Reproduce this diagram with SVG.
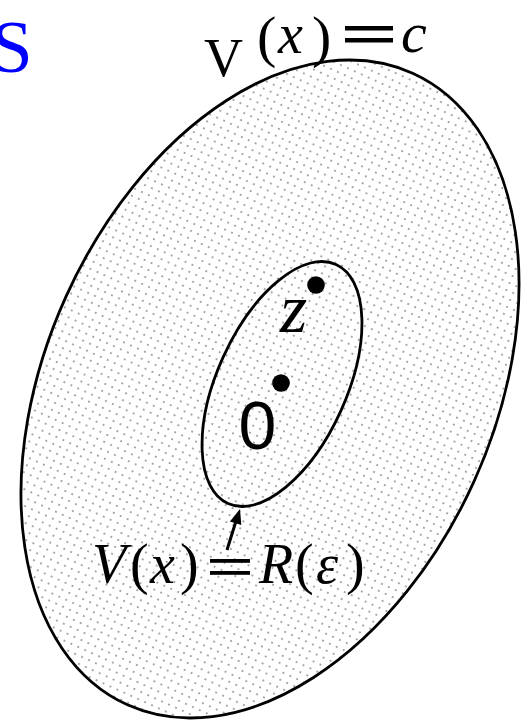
<svg xmlns="http://www.w3.org/2000/svg" width="531" height="720" viewBox="0 0 531 720">
<style>
.ell{fill:none;stroke:#000;stroke-width:2.8}
.math{font-family:"Liberation Serif","DejaVu Serif",serif;font-style:italic;fill:#000}
.rm{font-family:"Liberation Serif","DejaVu Serif",serif;fill:#000}
.conn{stroke:#000;stroke-width:3;fill:none}
</style>
<defs>
<pattern id="dots" x="0" y="0" width="7.6" height="7.6" patternUnits="userSpaceOnUse">
<circle cx="3.8" cy="3.8" r="1.05" fill="#909090"/>
</pattern>
</defs>
<rect width="531" height="720" fill="#fff"/>
<text x="-9" y="72" font-family="'Liberation Serif',serif" font-size="75" fill="#0000ff">S</text>
<g id="outer">
<ellipse cx="270" cy="389" rx="224" ry="346.5" transform="rotate(24.3 270 389)" fill="url(#dots)" stroke="none"/>
<ellipse class="ell" cx="270" cy="389" rx="224" ry="346.5" transform="rotate(24.3 270 389)"/>
</g>
<g id="outer-label">
<text class="rm" x="204" y="76" font-size="54">V</text>
<text class="rm" x="257" y="56" font-size="58">(</text>
<text class="math" x="278" y="53" font-size="56">x</text>
<text class="rm" x="312" y="56" font-size="58">)</text>
<rect x="345" y="26" width="48" height="4.5" fill="#000"/>
<rect x="345" y="38" width="48" height="4.5" fill="#000"/>
<text class="math" x="401" y="52" font-size="58">c</text>
</g>
<g id="inner">
<ellipse class="ell" cx="282" cy="384" rx="64.7" ry="131.2" transform="rotate(24.3 282 384)"/>
</g>
<g id="point-z">
<circle cx="316" cy="285" r="8.8" fill="#000"/>
<text class="math" x="280" y="332" font-size="70">z</text>
</g>
<g id="point-0">
<circle cx="281" cy="383" r="8.8" fill="#000"/>
<text x="257.5" y="449" font-family="'Liberation Sans',Arial,sans-serif" font-size="68" text-anchor="middle" fill="#000">0</text>
</g>
<g id="connectors">
<line class="conn" x1="227" y1="550" x2="236" y2="521"/>
<polygon points="240,509 229.9,521.5 241.3,525.1" fill="#000"/>
</g>
<g id="inner-label">
<text class="math" x="92" y="583" font-size="56">V</text>
<text class="rm" x="130" y="583" font-size="56">(</text>
<text class="math" x="150" y="583" font-size="56">x</text>
<text class="rm" x="180" y="583" font-size="56">)</text>
<rect x="210" y="559" width="40" height="3.8" fill="#000"/>
<rect x="210" y="571" width="40" height="3.8" fill="#000"/>
<text class="math" x="259" y="583" font-size="56">R</text>
<text class="rm" x="295" y="583" font-size="56">(</text>
<text class="math" x="316" y="583" font-size="56">ε</text>
<text class="rm" x="346" y="583" font-size="56">)</text>
</g>
</svg>
